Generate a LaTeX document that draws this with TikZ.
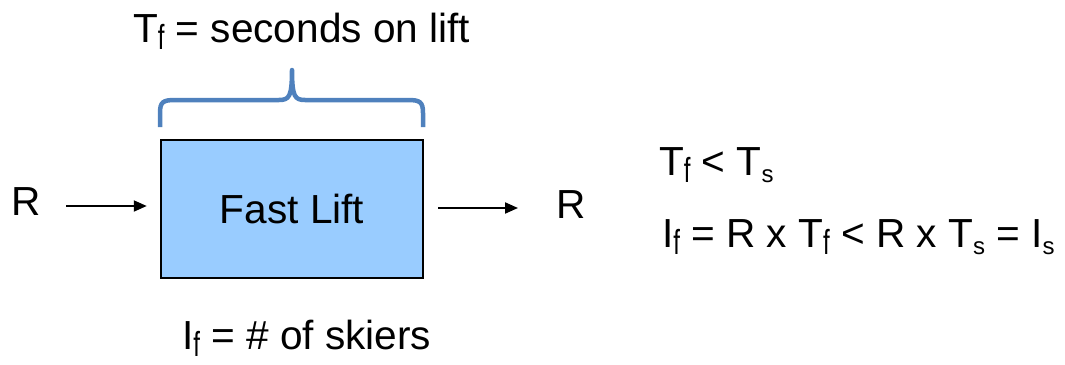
\documentclass[tikz,border=0pt]{standalone}
\usepackage{fontspec}
\usepackage{graphicx}
\setmainfont{Liberation Sans}
\usetikzlibrary{arrows.meta}
\definecolor{bracecol}{RGB}{79,129,189}
\definecolor{boxfill}{RGB}{153,204,255}
\newcommand{\lsub}[1]{\raisebox{-7pt}{\fontsize{24}{24}\selectfont #1}}
\newcommand{\fsub}{\raisebox{-7pt}{\fontsize{24}{24}\selectfont\scalebox{1}[1.45]{f}}}
\tikzset{
  lbl/.style={inner sep=0pt, outer sep=0pt, font=\fontsize{40.6}{48}\selectfont, anchor=base west},
  liftbox/.style={draw=black, line width=2.5pt, fill=boxfill, minimum width=262pt, minimum height=138pt, inner sep=0pt, font=\fontsize{40.6}{48}\selectfont},
  arr/.style={line width=2pt, -{Triangle[length=13pt,width=11pt]}},
  bracestyle/.style={draw=bracecol, line width=4.5pt, line join=round}
}
\begin{document}
\begin{tikzpicture}[x=1pt,y=-1pt]
\useasboundingbox (0,0) rectangle (1065,364);
\node[liftbox] (box) at (292,209) {\raisebox{-2.5pt}{Fast Lift}};
\node[lbl] (Rin) at (12,215) {R};
\node[lbl] (Rout) at (556,218) {R};
\node[lbl] (top) at (133,42) {T\fsub{} = seconds on lift};
\node[lbl] (bottom) at (182,349) {I\fsub{} = \# of skiers};
\node[lbl] (eq1) at (659,175) {T\fsub{} < T\lsub{s}};
\node[lbl] (eq2) at (662,247) {I\fsub{} = R x T\fsub{} < R x T\lsub{s} = I\lsub{s}};
\draw[arr] ([xshift=25pt,yshift=3pt]Rin.east |- box.west) -- ([xshift=-13pt,yshift=3pt]box.west);
\draw[arr] ([xshift=14pt,yshift=1pt]box.east) -- ([xshift=-38pt,yshift=1pt]Rout.west |- box.east);
\path[bracestyle] (160,127) -- (160,113) .. controls (160,102) and (163,100) .. (175,100) -- (279,100) .. controls (289,100) and (292,97) .. (292,70)
  .. controls (292,97) and (295,100) .. (305,100) -- (408,100) .. controls (420,100) and (423,102) .. (423,113) -- (423,127);
\end{tikzpicture}
\end{document}
